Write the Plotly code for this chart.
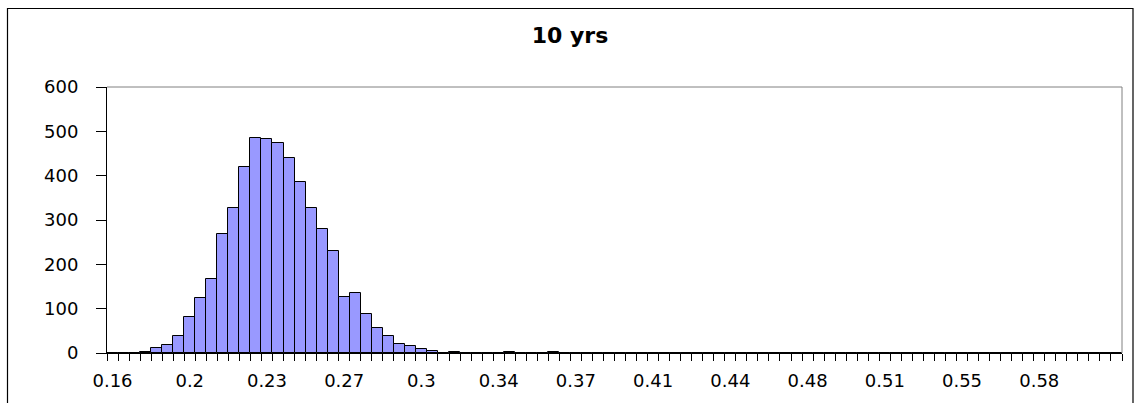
import plotly.graph_objects as go

# Histogram bins (category centres), bin width 0.005
bin_start = 0.16
bin_width = 0.005
n_bins = 92
bins = [round(bin_start + bin_width * i, 4) for i in range(n_bins)]

counts = [0, 0, 0, 2, 11, 17, 38, 82, 125, 168,
          268, 327, 419, 486, 483, 473, 440, 385, 328, 279,
          229, 127, 136, 88, 57, 38, 21, 15, 8, 5,
          0, 3, 0, 0, 0, 0, 2, 0, 0, 0,
          2] + [0] * (n_bins - 41)

tick_labels = ["0.16", "0.2", "0.23", "0.27", "0.3", "0.34", "0.37",
               "0.41", "0.44", "0.48", "0.51", "0.55", "0.58"]
tick_positions = bins[::7][:len(tick_labels)]
bin_edges = [round(b - bin_width / 2, 5) for b in bins] + [round(bins[-1] + bin_width / 2, 5)]

W, H = 1136, 403
ml, mr, mt, mb = 107, 14, 87, 50
pw, ph = W - ml - mr, H - mt - mb

fig = go.Figure()
fig.add_trace(go.Bar(
    x=bins, y=counts, width=bin_width,
    marker=dict(color="#9999FF", line=dict(color="black", width=1)),
    hoverinfo="skip",
))

def px_to_paper_x(px):
    return (px - ml) / pw

def px_to_paper_y(py):
    return (H - mb - py) / ph

shapes = [
    # outer chart frame
    dict(type="rect", xref="paper", yref="paper",
         x0=px_to_paper_x(7.5), x1=px_to_paper_x(1133),
         y0=px_to_paper_y(420), y1=px_to_paper_y(8.5),
         line=dict(color="black", width=1.2), fillcolor="rgba(0,0,0,0)", layer="below"),
    # plot area top & right border (gray)
    dict(type="line", xref="paper", yref="paper", x0=0, x1=1, y0=1, y1=1,
         line=dict(color="#808080", width=1)),
    dict(type="line", xref="paper", yref="paper", x0=1, x1=1, y0=0, y1=1,
         line=dict(color="#808080", width=1)),
]

fig.update_layout(
    width=W, height=H,
    margin=dict(l=ml, r=mr, t=mt, b=mb, pad=0),
    paper_bgcolor="white", plot_bgcolor="white",
    showlegend=False,
    bargap=0,
    shapes=shapes,
    title=dict(text="<b>10 yrs</b>", x=570 / W, xanchor="center", xref="container",
               y=1 - 35 / H, yanchor="middle", yref="container",
               font=dict(family="DejaVu Sans", size=22, color="black")),
    font=dict(family="DejaVu Sans", size=18, color="black"),
)

fig.update_xaxes(
    range=[bin_edges[0], bin_edges[-1]],
    tickmode="array", tickvals=tick_positions, ticktext=tick_labels,
    ticks="", showgrid=False, zeroline=False,
    showline=True, linecolor="black", linewidth=1,
    ticklabelstandoff=11,
    tickfont=dict(family="DejaVu Sans", size=18, color="black"),
    minor=dict(tickmode="array", tickvals=bin_edges, ticks="outside",
               ticklen=7, tickwidth=1, tickcolor="black", showgrid=False),
)
fig.update_yaxes(
    range=[0, 600], tickmode="linear", tick0=0, dtick=100,
    ticks="outside", ticklen=10, tickwidth=1, tickcolor="black",
    showgrid=False, zeroline=False,
    showline=True, linecolor="black", linewidth=1,
    ticklabelstandoff=14,
    tickfont=dict(family="DejaVu Sans", size=18, color="black"),
)

fig.write_html("out.html",
               config={"displayModeBar": False},
               post_script="document.body.style.margin='0px';document.body.style.overflow='hidden';")
